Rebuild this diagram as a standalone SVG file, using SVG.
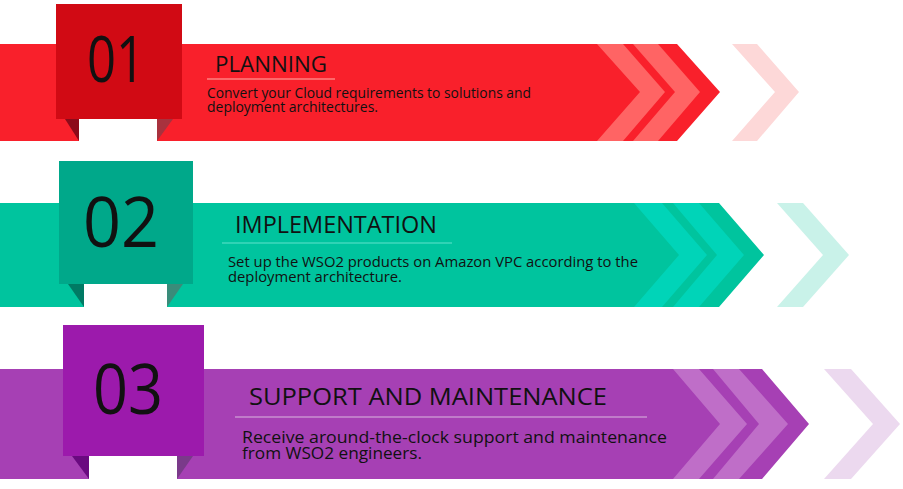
<svg xmlns="http://www.w3.org/2000/svg" width="903" height="489" viewBox="0 0 903 489">
<style>
text{font-family:"Open Sans","Noto Sans","DejaVu Sans",sans-serif;fill:#111;}
.num{text-anchor:middle;}
.r-band{fill:#f9202b}.r-sq{fill:#d10a14}.r-chev{fill:#ff6464}.r-out{fill:#fdd8d8}.r-fl{fill:#8c0a1a}.r-fr{fill:#a8323e}.r-ul{stroke:#ff8080}
.g-band{fill:#00c49e}.g-sq{fill:#00a88a}.g-chev{fill:#00d4b8}.g-out{fill:#c9f2e9}.g-fl{fill:#007a64}.g-fr{fill:#3a8c7a}.g-ul{stroke:#40d8bc}
.p-band{fill:#a640b4}.p-sq{fill:#9c1aac}.p-chev{fill:#bf6ec8}.p-out{fill:#ecd9ef}.p-fl{fill:#6a0a80}.p-fr{fill:#7a3a8a}.p-ul{stroke:#c890d0}
line{stroke-width:1.5}
</style>
<rect width="903" height="489" fill="#ffffff"/>

<g id="step-01">
<polygon class="r-band" points="0,44 677,44 720,92 677,141 157,141 157,119 79,119 79,141 0,141"/>
<polygon class="r-chev" points="597,44 623,44 665,92 623,141 597,141 640,92"/>
<polygon class="r-chev" points="633,44 658,44 700,92 658,141 633,141 675,92"/>
<polygon class="r-out" points="732,44 757,44 799,92 757,141 732,141 775,92"/>
<polygon class="r-fl" points="65,119 79,119 79,141"/>
<polygon class="r-fr" points="157,119 173,119 157,141"/>
<rect class="r-sq" x="56" y="4" width="126" height="115"/>
<text class="num" x="116" y="82" font-size="64" textLength="58" lengthAdjust="spacingAndGlyphs">01</text>
<text x="215" y="72" font-size="22" textLength="112" lengthAdjust="spacingAndGlyphs">PLANNING</text>
<line class="r-ul" x1="207" y1="79" x2="335" y2="79"/>
<text x="207" y="98" font-size="14" textLength="324" lengthAdjust="spacingAndGlyphs">Convert your Cloud requirements to solutions and</text>
<text x="207" y="112" font-size="14" textLength="171" lengthAdjust="spacingAndGlyphs">deployment architectures.</text>
</g>

<g id="step-02">
<polygon class="g-band" points="0,203 719,203 764,255 719,307 167,307 167,284 84,284 84,307 0,307"/>
<polygon class="g-chev" points="634,203 662,203 707,255 662,307 634,307 679,255"/>
<polygon class="g-chev" points="673,203 699,203 744,255 699,307 673,307 717,255"/>
<polygon class="g-out" points="777,203 803,203 849,255 803,307 777,307 823,255"/>
<polygon class="g-fl" points="68,284 84,284 84,307"/>
<polygon class="g-fr" points="167,284 183,284 167,307"/>
<rect class="g-sq" x="59" y="161" width="134" height="123"/>
<text class="num" x="121" y="247" font-size="70" textLength="76" lengthAdjust="spacingAndGlyphs">02</text>
<text x="235" y="233" font-size="23" textLength="202" lengthAdjust="spacingAndGlyphs">IMPLEMENTATION</text>
<line class="g-ul" x1="222" y1="243" x2="452" y2="243"/>
<text x="228" y="267" font-size="15" textLength="410" lengthAdjust="spacingAndGlyphs">Set up the WSO2 products on Amazon VPC according to the</text>
<text x="228" y="282" font-size="15" textLength="174" lengthAdjust="spacingAndGlyphs">deployment architecture.</text>
</g>

<g id="step-03">
<polygon class="p-band" points="0,369 762,369 809,424 762,479 177,479 177,456 89,456 89,479 0,479"/>
<polygon class="p-chev" points="673,369 699,369 747,424 699,479 673,479 720,424"/>
<polygon class="p-chev" points="713,369 739,369 788,424 739,479 713,479 759,424"/>
<polygon class="p-out" points="824,369 851,369 900,424 851,479 824,479 873,424"/>
<polygon class="p-fl" points="72,456 89,456 89,479"/>
<polygon class="p-fr" points="177,456 193,456 177,479"/>
<rect class="p-sq" x="63" y="325" width="141" height="131"/>
<text class="num" x="128" y="414" font-size="70" textLength="70" lengthAdjust="spacingAndGlyphs">03</text>
<text x="249" y="405" font-size="24" textLength="358" lengthAdjust="spacingAndGlyphs">SUPPORT AND MAINTENANCE</text>
<line class="p-ul" x1="235" y1="417" x2="647" y2="417"/>
<text x="242" y="443" font-size="17" textLength="425" lengthAdjust="spacingAndGlyphs">Receive around-the-clock support and maintenance</text>
<text x="242" y="459" font-size="17" textLength="180" lengthAdjust="spacingAndGlyphs">from WSO2 engineers.</text>
</g>

<g id="connectors"></g>
</svg>
